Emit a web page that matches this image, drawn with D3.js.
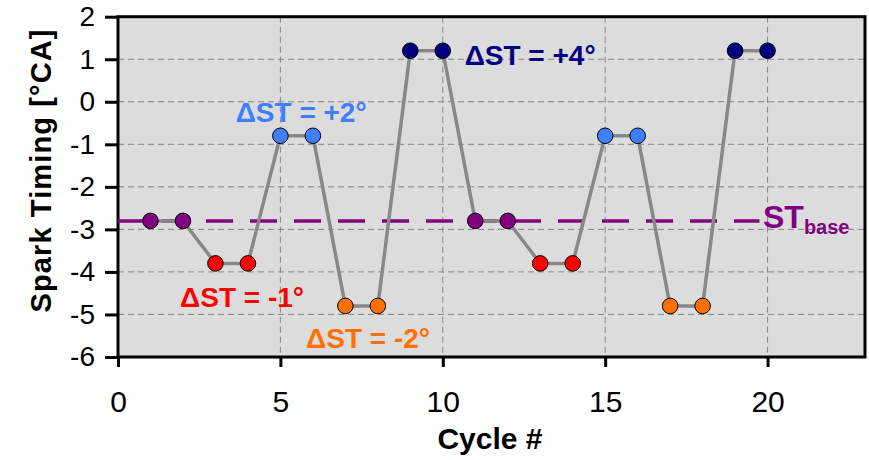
<!DOCTYPE html>
<html>
<head>
<meta charset="utf-8">
<script src="https://cdn.jsdelivr.net/npm/d3@7"></script>
<style>
  body { margin: 0; background: #fff; }
  text { font-family: "Liberation Sans", Arial, sans-serif; }
</style>
</head>
<body>
<div id="chart"></div>
<script>
// data
const cycles = [1, 2, 3, 4, 5, 6, 7, 8, 9, 10, 11, 12, 13, 14, 15, 16, 17, 18, 19, 20];
const timing = [-2.8, -2.8, -3.8, -3.8, -0.8, -0.8, -4.8, -4.8, 1.2, 1.2,
                -2.8, -2.8, -3.8, -3.8, -0.8, -0.8, -4.8, -4.8, 1.2, 1.2];
const groups = ["base", "base", "m1", "m1", "p2", "p2", "m2", "m2", "p4", "p4",
                "base", "base", "m1", "m1", "p2", "p2", "m2", "m2", "p4", "p4"];
const stBase = -2.8;
const stBaseExtent = [0, 19.75];
const xTicks = [0, 5, 10, 15, 20];
const yTicks = [2, 1, 0, -1, -2, -3, -4, -5, -6];

const labelText = ["ΔST = +4°", "ΔST = +2°", "ΔST = -1°", "ΔST = -2°"];
const labelGroup = ["p4", "p2", "m1", "m2"];
const labelX = [12.69, 5.64, 3.82, 7.70];
const labelY = [0.865, -0.475, -4.82, -5.79];

const colors = {base: "#800080", m1: "#ff0000", p2: "#3f7fff", m2: "#ff7000", p4: "#000080"};

const width = 869, height = 460;
const margin = {top: 16.7, right: 4, bottom: 103, left: 118};

const svg = d3.select("#chart").append("svg")
  .attr("width", width)
  .attr("height", height);

const x = d3.scaleLinear().domain([0, 23]).range([margin.left, width - margin.right]);
const y = d3.scaleLinear().domain([-6, 2]).range([height - margin.bottom, margin.top]);

// plot background
svg.append("rect")
  .attr("x", x(0)).attr("y", y(2))
  .attr("width", x(23) - x(0)).attr("height", y(-6) - y(2))
  .attr("fill", "#dcdcdc");

// dashed grid
svg.append("g").selectAll("line")
  .data(yTicks.filter(d => d > -6 && d < 2))
  .join("line")
  .attr("x1", x(0)).attr("x2", x(23))
  .attr("y1", d => y(d)).attr("y2", d => y(d))
  .attr("stroke", "#858585").attr("stroke-width", 1).attr("stroke-dasharray", "6,4");

svg.append("g").selectAll("line")
  .data(xTicks.filter(d => d > 0))
  .join("line")
  .attr("x1", d => x(d)).attr("x2", d => x(d))
  .attr("y1", y(2)).attr("y2", y(-6))
  .attr("stroke", "#858585").attr("stroke-width", 1).attr("stroke-dasharray", "6,4");

// frame
svg.append("rect")
  .attr("x", x(0)).attr("y", y(2))
  .attr("width", x(23) - x(0)).attr("height", y(-6) - y(2))
  .attr("fill", "none").attr("stroke", "#000").attr("stroke-width", 3);

// axes (plain hyphen for negatives, like the original)
const yAxis = svg.append("g")
  .attr("transform", `translate(${x(0)},0)`)
  .call(d3.axisLeft(y).tickValues(yTicks).tickSize(13).tickPadding(10).tickFormat(d => String(d)));
yAxis.select(".domain").remove();
yAxis.selectAll(".tick line").attr("stroke-width", 3);
yAxis.selectAll(".tick text")
  .attr("font-size", 28).attr("fill", "#000")
  .style("font-family", "'Liberation Sans', Arial, sans-serif");

const xAxis = svg.append("g")
  .attr("transform", `translate(0,${y(-6)})`)
  .call(d3.axisBottom(x).tickValues(xTicks).tickSize(10).tickPadding(24).tickFormat(d => String(d)));
xAxis.select(".domain").remove();
xAxis.selectAll(".tick line").attr("stroke-width", 3);
xAxis.selectAll(".tick text")
  .attr("font-size", 30).attr("fill", "#000")
  .style("font-family", "'Liberation Sans', Arial, sans-serif");

// axis titles
svg.append("text")
  .attr("x", 490).attr("y", 449)
  .attr("text-anchor", "middle")
  .attr("font-size", 30).attr("font-weight", "bold")
  .text("Cycle #");

svg.append("text")
  .attr("transform", "translate(51,171) rotate(-90)")
  .attr("text-anchor", "middle")
  .attr("font-size", 29).attr("font-weight", "bold")
  .attr("textLength", 283).attr("lengthAdjust", "spacing")
  .text("Spark Timing [°CA]");

// baseline
svg.append("line")
  .attr("x1", x(stBaseExtent[0])).attr("x2", x(stBaseExtent[1]))
  .attr("y1", y(stBase)).attr("y2", y(stBase))
  .attr("stroke", colors.base).attr("stroke-width", 3.5)
  .attr("stroke-dasharray", "27,17");

const stLabel = svg.append("text")
  .attr("x", x(19.86)).attr("y", y(-2.97))
  .attr("fill", colors.base).attr("font-weight", "bold").attr("font-size", 32);
stLabel.append("tspan").text("ST");
stLabel.append("tspan").attr("font-size", 20).attr("dy", 6).text("base");

// connecting line
const pts = cycles.map((c, i) => ({c: c, v: timing[i], g: groups[i]}));
svg.append("path")
  .datum(pts)
  .attr("fill", "none")
  .attr("stroke", "#888")
  .attr("stroke-width", 3.5)
  .attr("d", d3.line().x(d => x(d.c)).y(d => y(d.v)));

// markers
svg.append("g").selectAll("circle")
  .data(pts)
  .join("circle")
  .attr("cx", d => x(d.c)).attr("cy", d => y(d.v))
  .attr("r", 7.8)
  .attr("fill", d => colors[d.g])
  .attr("stroke", "#000").attr("stroke-width", 1);

// annotations
svg.append("g").selectAll("text")
  .data(labelText)
  .join("text")
  .attr("x", (d, i) => x(labelX[i])).attr("y", (d, i) => y(labelY[i]))
  .attr("text-anchor", "middle")
  .attr("font-size", 28).attr("font-weight", "bold")
  .attr("fill", (d, i) => colors[labelGroup[i]])
  .text(d => d);
</script>
</body>
</html>
